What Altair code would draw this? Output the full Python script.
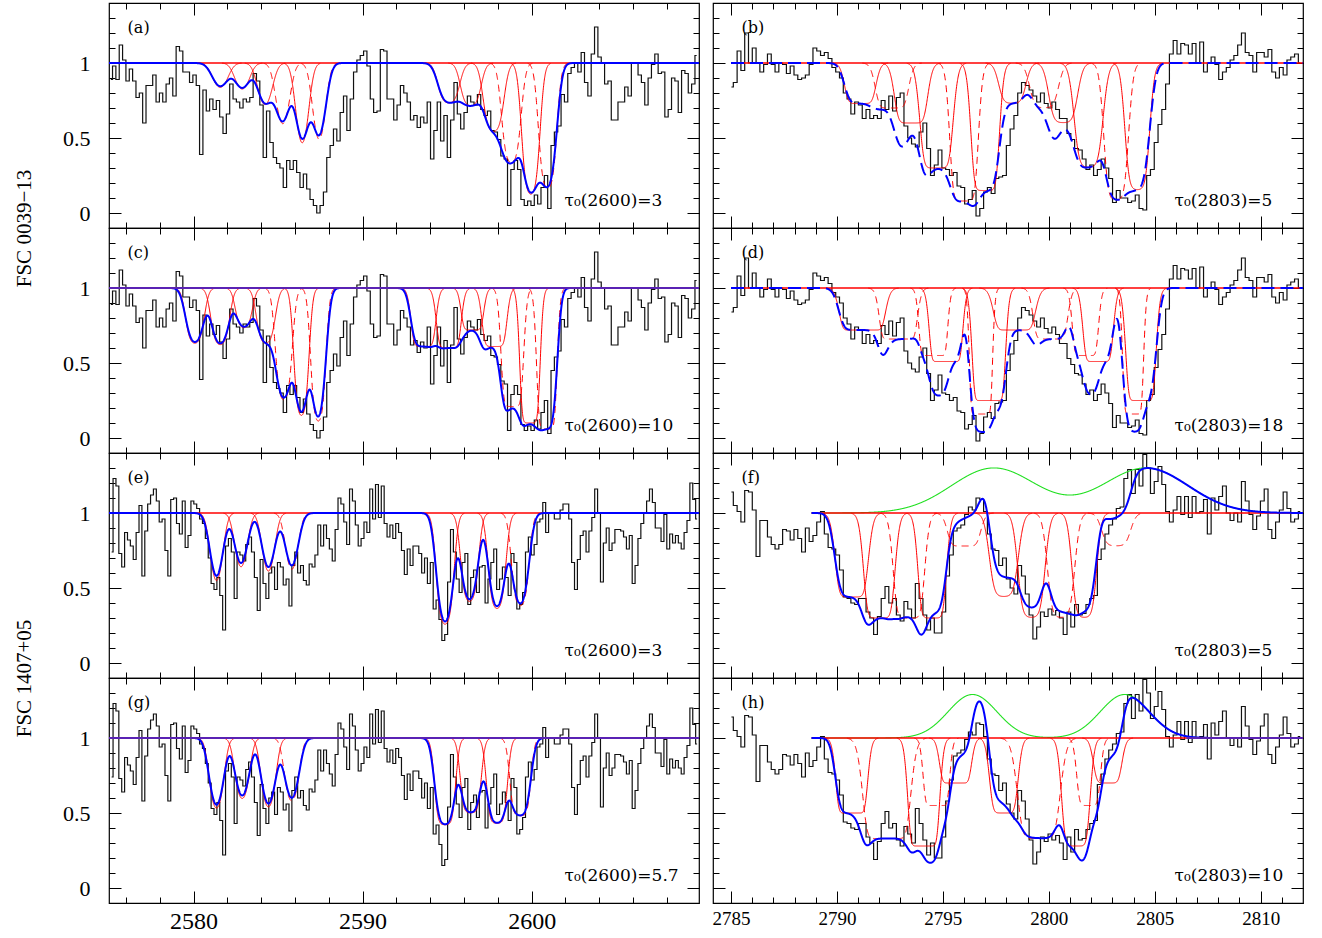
import numpy as np
import pandas as pd
import altair as alt

# ---------------- axis ranges ----------------
LEFT_X = (2575.0, 2609.9)
RIGHT_X = (2784.15, 2812.0)
Y_RANGE = (-0.1, 1.4)
PANEL_W, PANEL_H = 590, 225

# Fe II 2600 / 2587 pair: offset of the weaker line (A) and its optical-depth ratio
FE_LINES = [(0.0, 1.0), (-13.52, 0.2876)]
# Mg II 2796 / 2803 doublet: offset and optical depth relative to tau0(2803)
MG_LINES = [(0.0, 2.0), (7.18, 1.0)]
MG_SEP = 7.18
LSF_SIGMA = 0.15  # instrumental smoothing applied to the total model (A)

# ---------------- binned spectra (normalised flux) ----------------
FE0039_START, FE0039_STEP = 2575.11, 0.198
FE0039_FLUX = [
    0.89, 0.98, 0.89, 1.12, 1.02, 0.88, 0.96, 0.88, 0.77, 0.80,
    0.60, 0.85, 0.85, 0.92, 0.74, 0.80, 0.74, 0.86, 0.90, 0.78,
    1.11, 1.08, 0.94, 0.94, 0.87, 0.92, 0.85, 0.39, 0.82, 0.68,
    0.76, 0.69, 0.75, 0.64, 0.53, 0.66, 0.86, 0.76, 0.74, 0.70,
    0.76, 0.74, 0.77, 0.93, 0.88, 0.72, 0.37, 0.68, 0.47, 0.37,
    0.33, 0.30, 0.17, 0.35, 0.29, 0.35, 0.27, 0.17, 0.26, 0.16,
    0.09, 0.05, 0.00, 0.05, 0.14, 0.37, 0.45, 0.56, 0.48, 0.67,
    0.78, 0.55, 0.76, 0.94, 1.02, 1.05, 1.08, 0.98, 0.76, 0.67,
    0.68, 1.09, 1.08, 0.76, 0.76, 0.62, 0.72,
    0.85, 0.80, 0.74, 0.62, 0.65, 0.57, 0.64, 0.60, 0.74, 0.36,
    0.55, 0.74, 0.48, 0.65, 0.37, 0.62, 0.87, 0.66, 0.56, 0.67,
    0.78, 0.74, 0.72, 0.79, 0.69, 0.65, 0.68, 0.55, 0.54, 0.49,
    0.38, 0.36, 0.05, 0.29, 0.35, 0.29, 0.09, 0.05, 0.08, 0.05,
    0.12, 0.06, 0.17, 0.25, 0.03, 0.45, 0.54, 0.58, 0.79, 0.74,
    0.93, 0.97, 1.00, 0.94, 1.07, 0.87, 0.78, 1.06, 1.24, 1.04,
    1.00, 0.86, 0.88, 0.62, 0.62, 0.74, 0.74, 0.84, 0.78, 1.00,
    1.00, 0.92, 0.87, 0.72, 0.90, 0.99, 1.06, 0.93, 0.94, 0.64,
    0.69, 0.90, 0.88, 0.67, 0.95, 0.93, 0.80, 0.86, 1.05,
]

MG0039_START, MG0039_STEP = 2785.02, 0.179
MG0039_FLUX = [
    0.84, 0.87, 1.08, 0.95, 1.20, 1.00, 1.10, 1.00, 0.94, 0.99,
    1.06, 0.99, 0.94, 1.00, 0.99, 0.93, 0.98, 0.92, 0.89, 0.90,
    0.92, 0.99, 1.10, 1.08, 1.05, 1.07, 1.03, 0.97, 0.94, 0.90,
    0.80, 0.76, 0.66, 0.74, 0.72, 0.63, 0.69, 0.63, 0.65, 0.63,
    0.75, 0.69, 0.78, 0.68, 0.77, 0.80, 0.58, 0.50, 0.46, 0.44,
    0.54, 0.60, 0.43, 0.25, 0.32, 0.42, 0.30, 0.29, 0.25, 0.27,
    0.18, 0.17, 0.06, 0.09, 0.15, -0.02, 0.03, 0.14, 0.17, 0.13,
    0.23, 0.24, 0.25, 0.45, 0.56, 0.65, 0.80, 0.87, 0.85, 0.82,
    0.78, 0.74, 0.80, 0.73, 0.70, 0.74, 0.69, 0.63, 0.63, 0.53,
    0.49, 0.43, 0.42, 0.36, 0.29, 0.32, 0.25, 0.29, 0.36, 0.30,
    0.23, 0.07, 0.15, 0.10, 0.10, 0.07, 0.08, 0.12, 0.03, 0.02,
    0.25, 0.29, 0.47, 0.59, 0.69, 0.86, 1.06, 1.15, 1.06, 1.13,
    1.12, 1.06, 1.13, 1.00, 1.14, 0.94, 1.00, 1.04, 0.99, 0.89,
    0.94, 0.97, 1.02, 1.05, 1.12, 1.20, 1.07, 1.05, 0.94, 1.07,
    1.07, 1.04, 1.09, 0.94, 0.90, 0.97, 0.92, 1.02, 1.04, 1.06,
    1.00,
]

FE1407_START, FE1407_STEP = 2575.155, 0.1706
FE1407_FLUX = [
    0.74, 1.23, 1.18, 0.73, 0.64, 0.87, 0.82, 0.78, 0.69, 0.87,
    1.05, 0.58, 0.88, 1.06, 1.12, 1.16, 1.08, 0.94, 0.96, 0.75,
    0.58, 1.09, 1.10, 0.93, 0.86, 1.08, 0.77, 0.85, 1.08, 1.06,
    1.03, 0.96, 0.93, 0.83, 0.70, 0.53, 0.49, 0.57, 0.45, 0.22,
    0.78, 0.83, 0.74, 0.43, 0.74, 0.72, 0.68, 0.79, 0.84, 0.74,
    0.57, 0.35, 0.69, 0.53, 0.43, 0.60, 0.64, 0.49, 0.67, 0.64,
    0.52, 0.56, 0.38, 0.65, 0.74, 0.60, 0.65, 0.55, 0.52, 0.66,
    0.64, 0.72, 0.92, 0.78, 0.92, 0.83, 0.76, 0.68, 0.89, 1.10,
    1.06, 0.94, 0.79, 1.16, 1.08, 0.92, 0.78, 0.83, 0.94, 0.87,
    1.16, 0.96, 1.19, 0.97, 1.18, 0.93, 0.84, 0.92, 0.83, 0.93,
    0.87, 0.75, 0.59, 0.76, 0.65, 0.78, 0.78, 0.73, 0.60, 0.70,
    0.53, 0.67, 0.36, 0.42, 0.29, 0.15, 0.19, 0.54, 0.89, 0.74,
    0.56, 0.47, 0.67, 0.73, 0.39, 0.57, 0.62, 0.47, 0.64, 0.65,
    0.40, 0.56, 0.67, 0.76, 0.49, 0.56, 0.64, 0.57, 0.45, 0.73,
    0.67, 0.36, 0.39, 0.47, 0.74, 0.84, 0.72, 0.79, 0.94, 0.96,
    1.07, 0.87, 1.00, 1.00, 0.96, 0.96, 1.02, 1.06, 1.06, 0.96,
    0.67, 0.49, 0.69, 0.85, 0.88, 0.74, 0.88, 0.97, 1.16, 1.00,
    0.54, 0.80, 0.90, 0.75, 0.80, 0.89, 0.89, 0.88, 0.84, 0.76,
    0.85, 0.53, 0.65, 0.83, 0.93, 1.00, 1.08, 1.16, 1.07, 0.90,
    0.90, 0.81, 0.99, 0.76, 0.86, 0.80, 0.85, 0.80, 0.76, 0.87,
    0.95, 1.20, 1.09, 0.96,
]

MG1407_START, MG1407_STEP = 2785.02, 0.179
MG1407_FLUX = [
    1.14, 1.05, 1.01, 0.94, 1.15, 1.14, 1.02, 0.71, 0.95, 0.95,
    0.84, 0.79, 0.76, 0.79, 0.89, 0.88, 0.82, 0.89, 0.83, 0.74,
    0.90, 0.81, 0.85, 0.94, 1.01, 0.86, 0.77, 0.76, 0.72, 0.62,
    0.44, 0.43, 0.40, 0.39, 0.43, 0.43, 0.34, 0.30, 0.19, 0.31,
    0.43, 0.51, 0.40, 0.43, 0.32, 0.28, 0.41, 0.36, 0.30, 0.53,
    0.43, 0.32, 0.22, 0.30, 0.20, 0.20, 0.34, 0.58, 0.72, 0.88,
    0.90, 0.92, 0.99, 1.04, 1.02, 1.10, 1.09, 1.01, 0.86, 0.76,
    0.75, 0.65, 0.70, 0.56, 0.50, 0.46, 0.65, 0.58, 0.46, 0.32,
    0.16, 0.24, 0.34, 0.31, 0.36, 0.32, 0.35, 0.30, 0.19, 0.34,
    0.24, 0.39, 0.32, 0.33, 0.39, 0.43, 0.45, 0.69, 0.76, 0.86,
    0.92, 0.96, 1.03, 1.04, 1.23, 1.29, 1.13, 1.29, 1.18, 1.39,
    1.30, 1.13, 1.21, 1.31, 1.19, 1.01, 0.94, 1.02, 1.11, 0.99,
    1.11, 0.97, 1.11, 1.00, 1.01, 1.09, 0.86, 1.10, 1.02, 1.11,
    1.18, 1.00, 0.95, 1.00, 0.94, 1.21, 1.08, 0.99, 0.89, 0.98,
    1.08, 1.16, 0.89, 0.83, 0.94, 1.02, 1.14, 1.03, 0.94, 0.96,
    1.01,
]

# ---------------- fitted absorption components ----------------
# (centre of the stronger line [A], covering fraction, Gaussian sigma [A], dashed?)
COMPS_A = [(2595.10, 0.28, 0.38, False), (2596.40, 0.30, 0.36, False),
           (2597.75, 0.48, 0.36, False), (2598.80, 0.70, 0.34, True),
           (2599.95, 0.92, 0.32, False), (2600.95, 0.88, 0.32, True)]
COMPS_C = [(2593.60, 0.39, 0.33, False), (2595.10, 0.40, 0.33, False),
           (2596.50, 0.28, 0.30, False), (2597.80, 0.39, 0.33, False),
           (2598.86, 0.79, 0.30, True), (2599.90, 0.90, 0.27, False),
           (2600.90, 0.94, 0.27, True)]
COMPS_E = [(2594.88, 0.78, 0.31, False), (2596.33, 0.62, 0.31, False),
           (2597.95, 0.67, 0.31, False), (2599.33, 0.65, 0.31, True)]
COMPS_G = [(2594.88, 0.58, 0.31, False), (2596.40, 0.50, 0.31, False),
           (2597.95, 0.57, 0.31, False), (2599.33, 0.52, 0.31, True)]
COMPS_B = [(2791.10, 0.27, 0.33, False), (2792.60, 0.30, 0.35, True),
           (2793.50, 0.40, 0.35, False), (2794.70, 0.70, 0.35, False),
           (2796.00, 0.92, 0.30, True), (2797.00, 0.85, 0.30, False)]
COMPS_D = [(2791.20, 0.28, 0.40, False), (2792.90, 0.34, 0.33, True),
           (2794.55, 0.45, 0.25, True), (2795.15, 0.49, 0.29, False),
           (2796.80, 0.84, 0.20, True), (2797.17, 0.75, 0.29, False)]
COMPS_F = [(2790.70, 0.56, 0.35, False), (2792.00, 0.70, 0.33, False),
           (2793.40, 0.70, 0.33, True), (2794.50, 0.70, 0.30, False),
           (2796.00, 0.22, 0.35, True)]
COMPS_H = [(2790.70, 0.50, 0.30, False), (2792.35, 0.67, 0.45, True),
           (2794.10, 0.72, 0.30, False), (2794.70, 0.45, 0.25, True),
           (2795.60, 0.30, 0.30, False)]
# Mg II emission: (centre of 2796 peak [A], amplitude, sigma [A])
EMIS_F = (2797.40, 0.30, 2.0)
EMIS_H = (2796.40, 0.29, 1.15)

PANELS = [
    dict(tag="(a)", tau_text="τ₀(2600)=3", tau0=3.0, ion="fe", comps=COMPS_A,
         spec=(FE0039_START, FE0039_STEP, FE0039_FLUX), cont=(2575.0, 2609.9),
         ytitle="FSC 0039−13"),
    dict(tag="(b)", tau_text="τ₀(2803)=5", tau0=5.0, ion="mg", comps=COMPS_B,
         spec=(MG0039_START, MG0039_STEP, MG0039_FLUX), cont=(2785.0, 2812.0),
         blue_dash=True),
    dict(tag="(c)", tau_text="τ₀(2600)=10", tau0=10.0, ion="fe", comps=COMPS_C,
         spec=(FE0039_START, FE0039_STEP, FE0039_FLUX), cont=(2575.0, 2609.9),
         purple=(2575.0, 2609.9)),
    dict(tag="(d)", tau_text="τ₀(2803)=18", tau0=18.0, ion="mg", comps=COMPS_D,
         spec=(MG0039_START, MG0039_STEP, MG0039_FLUX), cont=(2785.0, 2812.0),
         blue_dash=True),
    dict(tag="(e)", tau_text="τ₀(2600)=3", tau0=3.0, ion="fe", comps=COMPS_E,
         spec=(FE1407_START, FE1407_STEP, FE1407_FLUX), cont=(2575.0, 2609.9),
         ytitle="FSC 1407+05"),
    dict(tag="(f)", tau_text="τ₀(2803)=5", tau0=5.0, ion="mg", comps=COMPS_F,
         spec=(MG1407_START, MG1407_STEP, MG1407_FLUX), cont=(2788.8, 2812.0),
         emission=EMIS_F),
    dict(tag="(g)", tau_text="τ₀(2600)=5.7", tau0=5.7, ion="fe", comps=COMPS_G,
         spec=(FE1407_START, FE1407_STEP, FE1407_FLUX), cont=(2575.0, 2609.9),
         purple=(2575.0, 2609.9)),
    dict(tag="(h)", tau_text="τ₀(2803)=10", tau0=10.0, ion="mg", comps=COMPS_H,
         spec=(MG1407_START, MG1407_STEP, MG1407_FLUX), cont=(2788.8, 2812.0),
         emission=EMIS_H, purple=(2806.5, 2812.0)),
]

RED, BLUE, GREEN, PURPLE = "#ff0000", "#0000ff", "#22e022", "#5a22b4"
SERIF = "Liberation Serif"
GRID_STEP = 0.01


def gauss(x, c, s):
    return np.exp(-0.5 * ((x - c) / s) ** 2)


def absorber(x, c, cov, tau, s):
    return 1.0 - cov * (1.0 - np.exp(-tau * gauss(x, c, s)))


def smooth(y, sigma):
    n = int(4 * sigma / GRID_STEP)
    k = np.exp(-0.5 * (np.arange(-n, n + 1) * GRID_STEP / sigma) ** 2)
    k /= k.sum()
    return np.convolve(np.pad(y, n, mode="edge"), k, mode="valid")


def model_frames(p):
    lines = FE_LINES if p["ion"] == "fe" else MG_LINES
    lo, hi = p["cont"]
    grid = np.arange(lo, hi + 1e-9, GRID_STEP)
    total = np.ones_like(grid)
    parts = []
    for i, (c, cov, s, dashed) in enumerate(p["comps"]):
        for j, (shift, fac) in enumerate(lines):
            tau = p["tau0"] * fac
            centre = c + shift
            total *= absorber(grid, centre, cov, tau, s)
            half = s * np.sqrt(2.0 * np.log(300.0 * tau))
            xs = np.arange(centre - half, centre + half + 1e-9, GRID_STEP)
            parts.append(pd.DataFrame({"x": xs, "y": absorber(xs, centre, cov, tau, s),
                                       "line": f"{i}-{j}", "dashed": dashed}))
    red = pd.concat(parts, ignore_index=True)
    total = smooth(total, LSF_SIGMA)
    green = None
    if "emission" in p:
        ec, amp, es = p["emission"]
        emis = 1.0 + amp * (gauss(grid, ec, es) + gauss(grid, ec + MG_SEP, es))
        total = total * emis
        green = pd.DataFrame({"x": grid, "y": emis})
    blue = pd.DataFrame({"x": grid, "y": total})
    return red, blue, green


def tick_axis(orient, values, size, labels=False, **extra):
    kw = dict(orient=orient, values=values, tickSize=size, offset=-size,
              domain=False, grid=False, labels=labels, ticks=True,
              tickColor="black", tickWidth=1)
    kw.update(extra)
    if "title" not in kw:
        kw["title"] = None
    return alt.Axis(**kw)


def build_panel(idx, p):
    row, col = divmod(idx, 2)
    left = col == 0
    bottom = row == 3
    xdom = LEFT_X if left else RIGHT_X
    xs = alt.Scale(domain=list(xdom), nice=False, zero=False)
    ys = alt.Scale(domain=list(Y_RANGE), nice=False, zero=False)
    major_x = [2580, 2590, 2600] if left else [2785, 2790, 2795, 2800, 2805, 2810]
    minor_x = list(range(2576, 2610, 2)) if left else list(range(2785, 2812))
    major_y = [0, 0.5, 1]
    minor_y = [-0.1, 0, 0.1, 0.2, 0.3, 0.4, 0.5, 0.6, 0.7, 0.8, 0.9, 1.0, 1.1, 1.2, 1.3]

    xlab_size = 24 if left else 19
    ax_b_major = tick_axis("bottom", major_x, 12, labels=bottom, format="d",
                           labelFontSize=xlab_size, labelFont=SERIF,
                           labelPadding=6, labelColor="black")
    ax_b_minor = tick_axis("bottom", minor_x, 6)
    ax_t_major = tick_axis("top", major_x, 12)
    ax_t_minor = tick_axis("top", minor_x, 6)
    yl_extra = dict(labels=left, format="~g", labelFontSize=22, labelFont=SERIF,
                    labelPadding=19, labelColor="black")
    if "ytitle" in p:
        yl_extra.update(title=p["ytitle"], titleY=PANEL_H, titleFontSize=21,
                        titleFont=SERIF, titleFontWeight="normal",
                        titlePadding=28, titleColor="black")
    ax_l_major = tick_axis("left", major_y, 12, **yl_extra)
    ax_l_minor = tick_axis("left", minor_y, 6)
    ax_r_major = tick_axis("right", major_y, 12)
    ax_r_minor = tick_axis("right", minor_y, 6)

    start, step, flux = p["spec"]
    hist = pd.DataFrame({"x": start + step * np.arange(len(flux)), "y": flux})
    red, blue, green = model_frames(p)
    lo, hi = p["cont"]
    cont = pd.DataFrame({"x": [lo, hi], "y": [1.0, 1.0]})

    def X(axis):
        return alt.X("x:Q", scale=xs, axis=axis, title=None)

    def Y(axis):
        return alt.Y("y:Q", scale=ys, axis=axis, title=None)

    layers = [
        alt.Chart(hist).mark_line(interpolate="step", color="#111111",
                                  strokeWidth=1.2, clip=True)
        .encode(x=X(ax_b_major), y=Y(ax_l_major)),
    ]
    if green is not None:
        layers.append(alt.Chart(green).mark_line(color=GREEN, strokeWidth=1.1, clip=True)
                      .encode(x=X(None), y=Y(None)))
    layers.append(alt.Chart(cont).mark_line(color=RED, strokeWidth=1.3, clip=True)
                  .encode(x=X(ax_b_minor), y=Y(ax_l_minor)))
    layers.append(alt.Chart(red[~red["dashed"]]).mark_line(color=RED, strokeWidth=1.0, clip=True)
                  .encode(x=X(ax_t_major), y=Y(ax_r_major), detail="line:N"))
    layers.append(alt.Chart(red[red["dashed"]]).mark_line(color=RED, strokeWidth=1.0,
                                                          strokeDash=[7, 5], clip=True)
                  .encode(x=X(ax_t_minor), y=Y(ax_r_minor), detail="line:N"))
    blue_kw = dict(color=BLUE, strokeWidth=2.0, clip=True)
    if p.get("blue_dash"):
        blue_kw["strokeDash"] = [13, 6]
    layers.append(alt.Chart(blue).mark_line(**blue_kw).encode(x=X(None), y=Y(None)))
    if "purple" in p:
        a, b = p["purple"]
        layers.append(alt.Chart(pd.DataFrame({"x": [a, b], "y": [1.0, 1.0]}))
                      .mark_line(color=PURPLE, strokeWidth=2.0, clip=True)
                      .encode(x=X(None), y=Y(None)))

    tag_x = 2576.1 if left else 2785.5
    tau_x = 2601.95 if left else 2805.94
    tags = pd.DataFrame({"x": [tag_x], "y": [1.2], "t": [p["tag"]]})
    taus = pd.DataFrame({"x": [tau_x], "y": [0.045], "t": [p["tau_text"]]})
    layers.append(alt.Chart(tags).mark_text(align="left", baseline="alphabetic",
                                            font="DejaVu Serif", fontSize=16, color="black")
                  .encode(x=X(None), y=Y(None), text="t:N"))
    layers.append(alt.Chart(taus).mark_text(align="left", baseline="alphabetic",
                                            font="DejaVu Serif", fontSize=17, color="black")
                  .encode(x=X(None), y=Y(None), text="t:N"))

    return (alt.layer(*layers)
            .resolve_axis(x="independent", y="independent")
            .properties(width=PANEL_W, height=PANEL_H))


panels = [build_panel(i, p) for i, p in enumerate(PANELS)]

chart = (
    alt.concat(*panels, columns=2, spacing={"row": 0, "column": 14}, bounds="flush")
    .properties(padding={"left": 12, "top": 1, "right": 5, "bottom": 0})
    .configure_view(stroke="black", strokeWidth=1.2)
)

chart.save("out.html", embed_options={"renderer": "svg", "actions": False})
